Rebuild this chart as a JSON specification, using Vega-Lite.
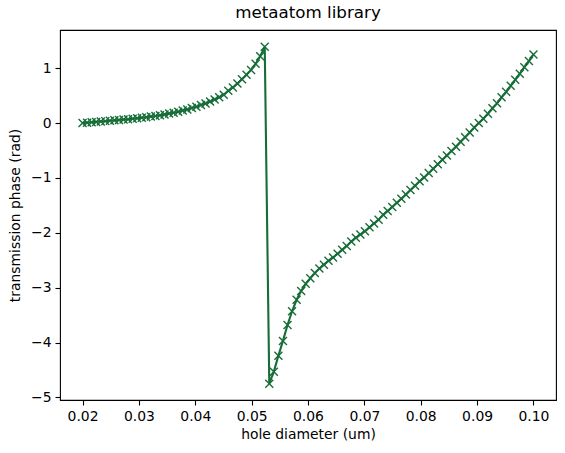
{
  "$schema": "https://vega.github.io/schema/vega-lite/v6.json",
  "width": 496,
  "height": 370,
  "autosize": {"type": "none"},
  "padding": {"left": 60, "top": 30, "right": 9, "bottom": 53},
  "background": "white",
  "title": {"text": "metaatom library", "fontSize": 16.7, "font": "DejaVu Sans", "fontWeight": "normal", "color": "black", "offset": 8, "anchor": "middle"},
  "config": {
    "view": {"stroke": "black", "strokeWidth": 1.1},
    "axis": {"grid": false, "domain": false, "tickColor": "black", "tickWidth": 1.1, "tickSize": 5, "labelFont": "DejaVu Sans", "labelFontSize": 13.9, "labelColor": "black", "labelPadding": 4, "titleFont": "DejaVu Sans", "titleFontSize": 13.9, "titleFontWeight": "normal", "titleColor": "black"}
  },
  "data": {"values": [
    {"d": 0.020000, "phase": 0.000},
    {"d": 0.020808, "phase": 0.008},
    {"d": 0.021616, "phase": 0.015},
    {"d": 0.022424, "phase": 0.022},
    {"d": 0.023232, "phase": 0.029},
    {"d": 0.024040, "phase": 0.036},
    {"d": 0.024848, "phase": 0.043},
    {"d": 0.025657, "phase": 0.050},
    {"d": 0.026465, "phase": 0.057},
    {"d": 0.027273, "phase": 0.064},
    {"d": 0.028081, "phase": 0.072},
    {"d": 0.028889, "phase": 0.080},
    {"d": 0.029697, "phase": 0.089},
    {"d": 0.030505, "phase": 0.098},
    {"d": 0.031313, "phase": 0.108},
    {"d": 0.032121, "phase": 0.119},
    {"d": 0.032929, "phase": 0.131},
    {"d": 0.033737, "phase": 0.144},
    {"d": 0.034545, "phase": 0.158},
    {"d": 0.035354, "phase": 0.173},
    {"d": 0.036162, "phase": 0.190},
    {"d": 0.036970, "phase": 0.208},
    {"d": 0.037778, "phase": 0.228},
    {"d": 0.038586, "phase": 0.250},
    {"d": 0.039394, "phase": 0.274},
    {"d": 0.040202, "phase": 0.300},
    {"d": 0.041010, "phase": 0.328},
    {"d": 0.041818, "phase": 0.359},
    {"d": 0.042626, "phase": 0.393},
    {"d": 0.043434, "phase": 0.430},
    {"d": 0.044242, "phase": 0.471},
    {"d": 0.045051, "phase": 0.516},
    {"d": 0.045859, "phase": 0.590},
    {"d": 0.046667, "phase": 0.650},
    {"d": 0.047475, "phase": 0.720},
    {"d": 0.048283, "phase": 0.800},
    {"d": 0.049091, "phase": 0.880},
    {"d": 0.049899, "phase": 0.970},
    {"d": 0.050707, "phase": 1.080},
    {"d": 0.051515, "phase": 1.220},
    {"d": 0.052323, "phase": 1.390},
    {"d": 0.053131, "phase": -4.750},
    {"d": 0.053939, "phase": -4.530},
    {"d": 0.054747, "phase": -4.240},
    {"d": 0.055556, "phase": -3.970},
    {"d": 0.056364, "phase": -3.680},
    {"d": 0.057172, "phase": -3.430},
    {"d": 0.057980, "phase": -3.220},
    {"d": 0.058788, "phase": -3.060},
    {"d": 0.059596, "phase": -2.930},
    {"d": 0.060404, "phase": -2.830},
    {"d": 0.061212, "phase": -2.730},
    {"d": 0.062020, "phase": -2.650},
    {"d": 0.062828, "phase": -2.580},
    {"d": 0.063636, "phase": -2.510},
    {"d": 0.064444, "phase": -2.450},
    {"d": 0.065253, "phase": -2.380},
    {"d": 0.066061, "phase": -2.310},
    {"d": 0.066869, "phase": -2.240},
    {"d": 0.067677, "phase": -2.160},
    {"d": 0.068485, "phase": -2.090},
    {"d": 0.069293, "phase": -2.030},
    {"d": 0.070101, "phase": -1.970},
    {"d": 0.070909, "phase": -1.900},
    {"d": 0.071717, "phase": -1.830},
    {"d": 0.072525, "phase": -1.760},
    {"d": 0.073333, "phase": -1.670},
    {"d": 0.074141, "phase": -1.600},
    {"d": 0.074949, "phase": -1.530},
    {"d": 0.075758, "phase": -1.450},
    {"d": 0.076566, "phase": -1.380},
    {"d": 0.077374, "phase": -1.300},
    {"d": 0.078182, "phase": -1.220},
    {"d": 0.078990, "phase": -1.140},
    {"d": 0.079798, "phase": -1.060},
    {"d": 0.080606, "phase": -0.990},
    {"d": 0.081414, "phase": -0.910},
    {"d": 0.082222, "phase": -0.830},
    {"d": 0.083030, "phase": -0.750},
    {"d": 0.083838, "phase": -0.670},
    {"d": 0.084646, "phase": -0.590},
    {"d": 0.085455, "phase": -0.510},
    {"d": 0.086263, "phase": -0.430},
    {"d": 0.087071, "phase": -0.340},
    {"d": 0.087879, "phase": -0.260},
    {"d": 0.088687, "phase": -0.170},
    {"d": 0.089495, "phase": -0.080},
    {"d": 0.090303, "phase": 0.000},
    {"d": 0.091111, "phase": 0.080},
    {"d": 0.091919, "phase": 0.170},
    {"d": 0.092727, "phase": 0.270},
    {"d": 0.093535, "phase": 0.360},
    {"d": 0.094343, "phase": 0.470},
    {"d": 0.095152, "phase": 0.570},
    {"d": 0.095960, "phase": 0.680},
    {"d": 0.096768, "phase": 0.790},
    {"d": 0.097576, "phase": 0.900},
    {"d": 0.098384, "phase": 1.020},
    {"d": 0.099192, "phase": 1.130},
    {"d": 0.100000, "phase": 1.250}
  ]},
  "encoding": {
    "x": {"field": "d", "type": "quantitative", "scale": {"domain": [0.016, 0.104], "nice": false, "zero": false},
      "axis": {"title": "hole diameter (um)", "values": [0.02, 0.03, 0.04, 0.05, 0.06, 0.07, 0.08, 0.09, 0.1], "format": ".2f", "titlePadding": 5}},
    "y": {"field": "phase", "type": "quantitative", "scale": {"domain": [-5.047, 1.697], "nice": false, "zero": false},
      "axis": {"title": "transmission phase (rad)", "values": [-5, -4, -3, -2, -1, 0, 1], "format": "d", "titlePadding": 8}}
  },
  "layer": [
    {"mark": {"type": "line", "color": "#166d37", "strokeWidth": 2.1, "clip": true}},
    {"mark": {"type": "point", "shape": "M-1,-1L1,1M-1,1L1,-1", "filled": false, "stroke": "#166d37", "strokeWidth": 1.4, "size": 64, "opacity": 1, "clip": false}}
  ]
}
